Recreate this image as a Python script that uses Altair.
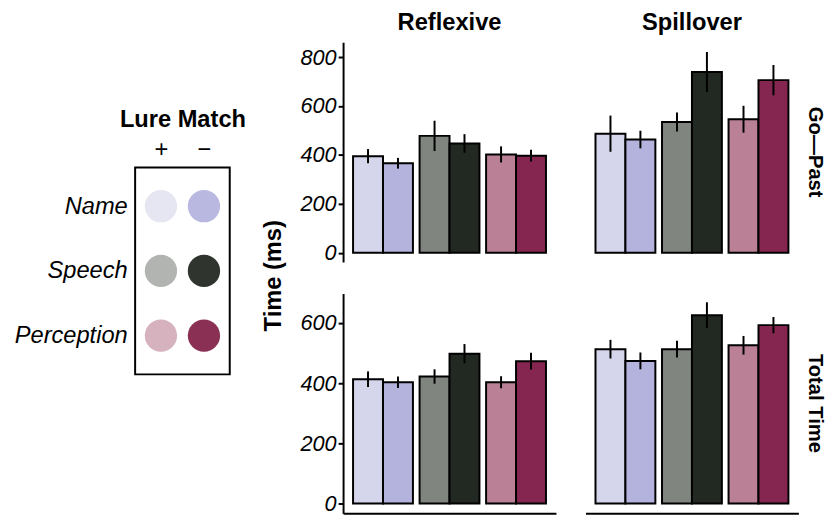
import altair as alt
import pandas as pd

FONT = "Liberation Sans"

conditions = ["Reflexive", "Spillover"]
measures = ["Go—Past", "Total Time"]
categories = ["Name", "Speech", "Perception"]
matches = ["+", "−"]

# order within each panel: Name+, Name-, Speech+, Speech-, Perception+, Perception-
gp_reflexive_mean = [395, 366, 478, 447, 402, 397]
gp_reflexive_se = [29, 22, 62, 38, 33, 24]
gp_spillover_mean = [487, 463, 535, 739, 546, 706]
gp_spillover_se = [74, 36, 39, 82, 55, 62]
tt_reflexive_mean = [413, 403, 422, 498, 403, 473]
tt_reflexive_se = [26, 19, 24, 32, 20, 28]
tt_spillover_mean = [513, 474, 513, 626, 526, 593]
tt_spillover_se = [31, 28, 28, 43, 31, 27]

bar_colors = ["#d5d5ec", "#b3b3dd", "#808580", "#222822", "#b98096", "#852650"]
legend_colors = ["#e6e6f3", "#b8b8e0", "#b1b4b0", "#2f342f", "#d6b1be", "#8a3055"]

gp_ticks = [0, 200, 400, 600, 800]
tt_ticks = [0, 200, 400, 600]
gp_domain = [-38, 861]
tt_domain = [-33, 698]

series = {
    (measures[0], "Reflexive"): (gp_reflexive_mean, gp_reflexive_se),
    (measures[0], "Spillover"): (gp_spillover_mean, gp_spillover_se),
    (measures[1], "Reflexive"): (tt_reflexive_mean, tt_reflexive_se),
    (measures[1], "Spillover"): (tt_spillover_mean, tt_spillover_se),
}

rows = []
for (meas, cond), (means, ses) in series.items():
    for i, (m, s) in enumerate(zip(means, ses)):
        rows.append({
            "measure": meas, "cond": cond,
            "cat": categories[i // 2], "match": matches[i % 2],
            "mean": m, "lo": m - s, "hi": m + s,
            "fill": bar_colors[i],
        })
df = pd.DataFrame(rows)

leg_rows = []
for i, c in enumerate(legend_colors):
    leg_rows.append({"cat": categories[i // 2], "match": matches[i % 2], "col": c})
leg_df = pd.DataFrame(leg_rows)


def row_chart(measure, domain, ticks, top):
    d = df[df["measure"] == measure]
    x_axis = None if top else alt.Axis(labels=False, ticks=False, title=None,
                                       domain=True, domainColor="black", domainWidth=2)
    x = alt.X("cat:N", sort=categories,
              scale=alt.Scale(paddingInner=0.1, paddingOuter=0.15), axis=x_axis)
    xo = alt.XOffset("match:N", sort=matches,
                     scale=alt.Scale(paddingInner=0, paddingOuter=0))
    y = alt.Y("mean:Q", scale=alt.Scale(domain=domain, nice=False),
              axis=alt.Axis(values=ticks, title=None))
    bars = alt.Chart().mark_bar(stroke="black", strokeWidth=2).encode(
        x=x, xOffset=xo, y=y, y2=alt.datum(0),
        color=alt.Color("fill:N", scale=None))
    err = alt.Chart().mark_rule(color="black", strokeWidth=2).encode(
        x=x, xOffset=xo, y="lo:Q", y2="hi:Q")
    layer = alt.layer(bars, err, data=d).properties(width=216, height=223)
    if top:
        col_header = alt.Header(title=None, labelFontSize=24, labelFontWeight="bold",
                                labelFont=FONT, labelColor="black", labelPadding=7)
    else:
        col_header = alt.Header(title=None, labels=False)
    row_header = alt.Header(title=None, labelOrient="right", labelAngle=90,
                            labelFontSize=20.5, labelFontWeight="bold", labelFont=FONT,
                            labelColor="black", labelPadding=6, labelAlign="center")
    return layer.facet(
        column=alt.Column("cond:N", sort=conditions, header=col_header),
        row=alt.Row("measure:N", header=row_header),
        spacing=30,
    )


row1 = row_chart(measures[0], gp_domain, gp_ticks, True)
row2 = row_chart(measures[1], tt_domain, tt_ticks, False)

grid = alt.vconcat(
    row1, row2, spacing=30,
    title=alt.TitleParams("Time (ms)", orient="left", anchor="middle", fontSize=24,
                          fontWeight="bold", font=FONT, color="black", offset=14,
                          dx=-13),
).resolve_scale(y="independent", x="independent")

spacer = alt.Chart(pd.DataFrame({"v": [0]})).mark_point(opacity=0).encode(
    x=alt.X("v:Q", axis=None), y=alt.Y("v:Q", axis=None)
).properties(width=10, height=66)

legend = alt.Chart(leg_df).mark_circle(size=1075, opacity=1).encode(
    x=alt.X("match:N", sort=matches, scale=alt.Scale(padding=0.6),
            axis=alt.Axis(orient="top", title="Lure Match", labelAngle=0, domain=False,
                          ticks=False, labelFontSize=24, labelFontStyle="normal",
                          labelPadding=6, titleFontSize=24, titleFontWeight="bold",
                          titleFont=FONT, titlePadding=6)),
    y=alt.Y("cat:N", sort=categories, scale=alt.Scale(padding=0.6),
            axis=alt.Axis(title=None, domain=False, ticks=False, labelFontSize=24,
                          labelFontStyle="italic", labelPadding=8)),
    color=alt.Color("col:N", scale=None),
).properties(width=96, height=210,
             view=alt.ViewBackground(stroke="black", strokeWidth=2))

legend_col = alt.vconcat(spacer, legend, spacing=0)

chart = alt.hconcat(legend_col, grid, spacing=15).properties(
    padding={"left": 5, "top": 0, "right": 0, "bottom": 0}
).configure_view(stroke=None).configure_axis(
    domainColor="black", domainWidth=2, tickColor="black", tickWidth=2, tickSize=5,
    labelColor="black", labelFont=FONT, labelFontSize=22, labelFontStyle="italic",
    labelPadding=2, grid=False, titleColor="black",
).configure_header(labelFont=FONT).configure_title(font=FONT)

chart.save("out.html", embed_options={"renderer": "svg", "actions": False})
